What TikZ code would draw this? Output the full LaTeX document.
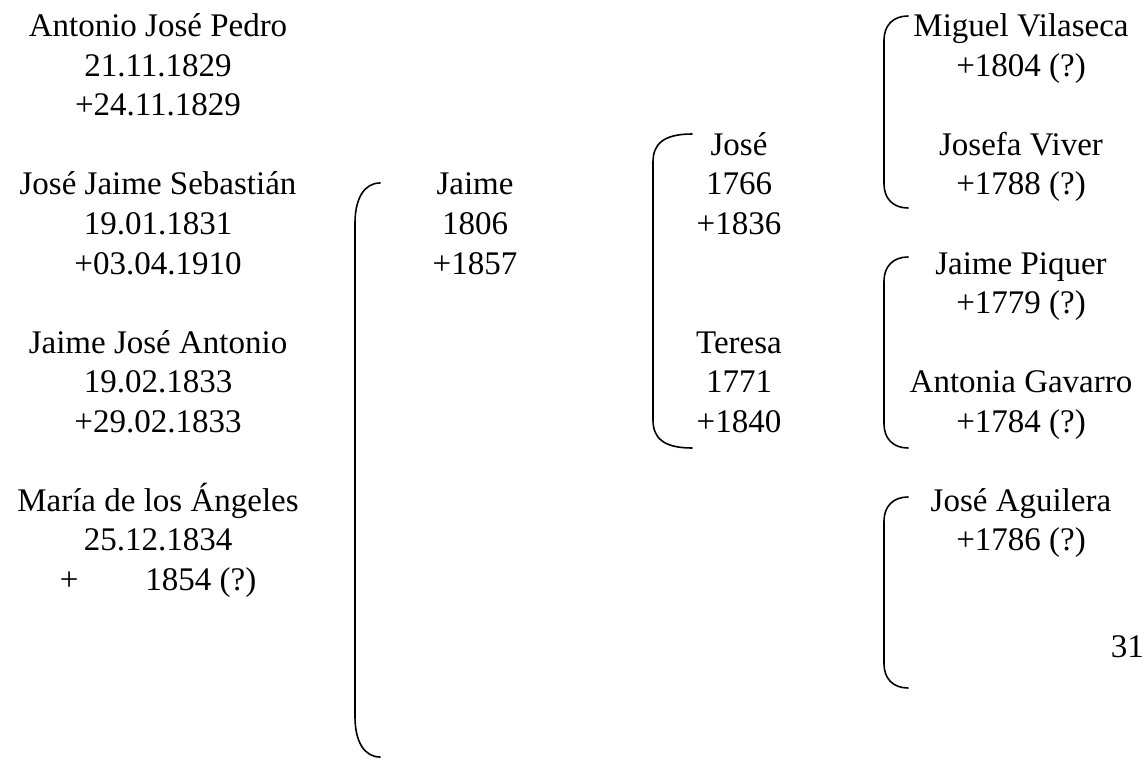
\documentclass[tikz,border=0pt]{standalone}
\usepackage{fontspec}
\setmainfont{Liberation Serif}
\tikzset{
  txt/.style={font=\fontsize{33}{39.5}\selectfont, inner sep=0pt, anchor=base},
  brk/.style={line width=1.6pt, line cap=round}
}
% #1 x of vertical line, #2 x of hook ends, #3 top y, #4 bottom y, #5 curve depth
\newcommand\famBracket[5]{%
  \draw[brk] (#2,#3) .. controls (#1+9,#3) and (#1,#3+#5*0.4) .. (#1,#3+#5)
    -- (#1,#4-#5) .. controls (#1,#4-#5*0.4) and (#1+9,#4) .. (#2,#4);}
\begin{document}
\begin{tikzpicture}[x=1pt,y=-1pt]
\useasboundingbox (0,0) rectangle (1145,759);
% left column (children)
\node[txt] (c1a) at (158,37)    {Antonio José Pedro};
\node[txt] (c1b) at (158,76.5)  {21.11.1829};
\node[txt] (c1c) at (158,116)   {+24.11.1829};
\node[txt] (c2a) at (158,195)   {José Jaime Sebastián};
\node[txt] (c2b) at (158,234.5) {19.01.1831};
\node[txt] (c2c) at (158,274)   {+03.04.1910};
\node[txt] (c3a) at (158,353)   {Jaime José Antonio};
\node[txt] (c3b) at (158,392.5) {19.02.1833};
\node[txt] (c3c) at (158,432)   {+29.02.1833};
\node[txt] (c4a) at (158,511)   {María de los Ángeles};
\node[txt] (c4b) at (158,550.5) {25.12.1834};
\node[txt] (c4c) at (158,590)   {+\hspace{67pt}1854 (?)};
% father
\node[txt] (fa) at (475,195)   {Jaime};
\node[txt] (fb) at (475,234.5) {1806};
\node[txt] (fc) at (475,274)   {+1857};
% grandparents
\node[txt] (g1a) at (739,155.5) {José};
\node[txt] (g1b) at (739,195)   {1766};
\node[txt] (g1c) at (739,234.5) {+1836};
\node[txt] (g2a) at (739,353)   {Teresa};
\node[txt] (g2b) at (739,392.5) {1771};
\node[txt] (g2c) at (739,432)   {+1840};
% great-grandparents
\node[txt] (r1a) at (1021,37)    {Miguel Vilaseca};
\node[txt] (r1b) at (1021,76.5)  {+1804 (?)};
\node[txt] (r2a) at (1021,155.5) {Josefa Viver};
\node[txt] (r2b) at (1021,195)   {+1788 (?)};
\node[txt] (r3a) at (1021,274)   {Jaime Piquer};
\node[txt] (r3b) at (1021,313.5) {+1779 (?)};
\node[txt] (r4a) at (1021,392.5) {Antonia Gavarro};
\node[txt] (r4b) at (1021,432)   {+1784 (?)};
\node[txt] (r5a) at (1021,511)   {José Aguilera};
\node[txt] (r5b) at (1021,550.5) {+1786 (?)};
\node[txt, anchor=base east] (pg) at (1144,657) {31};
% brackets
\famBracket{355}{380}{183}{757}{40}
\famBracket{653}{692}{134}{448}{28}
\famBracket{884}{908}{16}{208}{24}
\famBracket{884}{908}{257}{448}{24}
\famBracket{884}{908}{497}{688}{24}
\end{tikzpicture}
\end{document}
